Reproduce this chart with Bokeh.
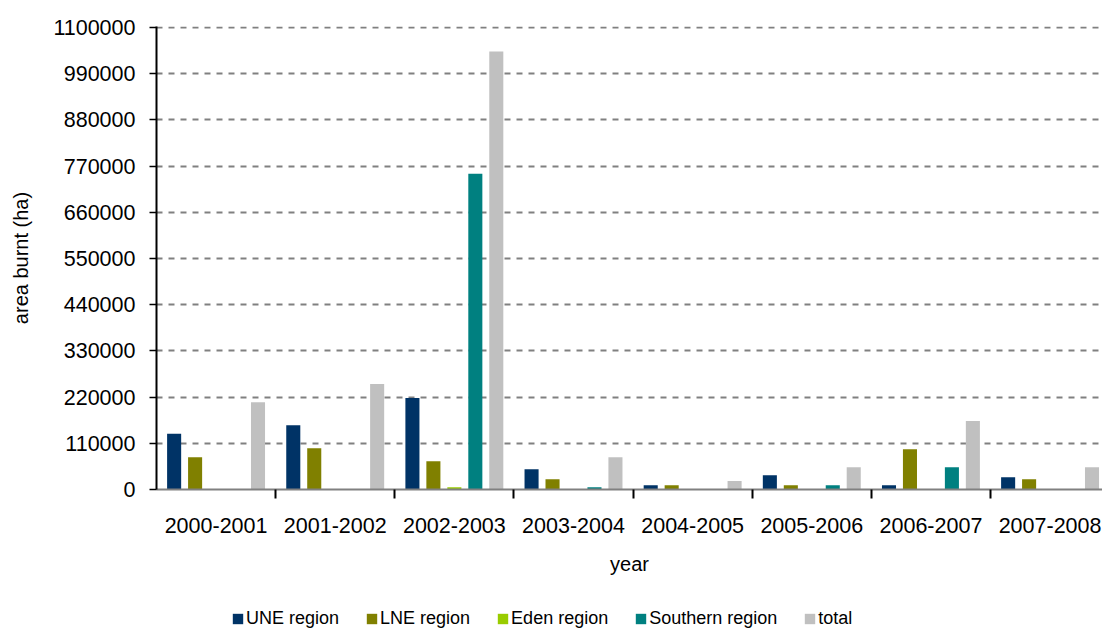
from bokeh.plotting import figure
from bokeh.layouts import column
from bokeh.models import (ColumnDataSource, FixedTicker, NumeralTickFormatter,
                          Legend, LegendItem, Range1d)
from bokeh.embed import file_html
from bokeh.resources import INLINE

# Fire seasons and area burnt (ha) per region
years = ["2000-2001", "2001-2002", "2002-2003", "2003-2004",
         "2004-2005", "2005-2006", "2006-2007", "2007-2008"]
une = [133000, 153000, 218000, 48000, 10000, 34000, 10000, 29000]
lne = [77000, 98500, 67500, 24500, 10000, 10000, 96000, 24500]
eden = [0, 0, 5500, 0, 0, 0, 0, 0]
southern = [0, 0, 752000, 5500, 0, 10000, 53000, 0]
total = [208000, 251000, 1043000, 77000, 20000, 53000, 163000, 53000]

series_names = ["UNE region", "LNE region", "Eden region", "Southern region", "total"]
series_values = [une, lne, eden, southern, total]
series_colors = ["#003366", "#808000", "#99CC00", "#008080", "#C0C0C0"]

y_ticks = [0, 110000, 220000, 330000, 440000, 550000, 660000,
           770000, 880000, 990000, 1100000]

FONT = "Liberation Sans"
TICK_SIZE = "21.5px"

# leave a pixel above the top gridline so it is not cut by the frame
p = figure(width=1102, height=590, output_backend="svg", toolbar_location=None,
           x_range=Range1d(0, 7.94), y_range=Range1d(0, 1102400),
           min_border_left=156, min_border_right=0, min_border_top=26,
           min_border_bottom=101)
p.outline_line_color = None
p.xgrid.visible = False

slot = 0.176
bar_w = 0.118
for k, (name, vals, col) in enumerate(zip(series_names, series_values, series_colors)):
    xs = [i + 0.5 + (k - 2) * slot for i in range(len(years))]
    src = ColumnDataSource(dict(x=xs, top=vals))
    p.vbar(x="x", top="top", width=bar_w, source=src,
           fill_color=col, line_color=None)

# y axis
p.yaxis.ticker = FixedTicker(ticks=y_ticks)
p.yaxis.formatter = NumeralTickFormatter(format="0")
p.yaxis.axis_label = "area burnt (ha)"
p.yaxis.axis_label_text_font = FONT
p.yaxis.axis_label_text_font_size = "20px"
p.yaxis.axis_label_text_font_style = "normal"
p.yaxis.axis_label_text_color = "black"
p.yaxis.axis_label_standoff = 18
p.yaxis.major_label_text_font = FONT
p.yaxis.major_label_text_font_size = TICK_SIZE
p.yaxis.major_label_text_color = "black"
p.yaxis.major_label_standoff = 14
p.yaxis.axis_line_color = "black"
p.yaxis.axis_line_width = 2
p.yaxis.major_tick_out = 7
p.yaxis.major_tick_in = 0
p.yaxis.major_tick_line_width = 1.5
p.yaxis.minor_tick_line_color = None

p.ygrid.ticker = FixedTicker(ticks=y_ticks[1:])
p.ygrid.grid_line_color = "#808080"
p.ygrid.grid_line_width = 2
p.ygrid.grid_line_dash = "6 6"

# x axis: labels centred under each season, tick marks between seasons
centers = [i + 0.5 for i in range(len(years))]
bounds = [float(i) for i in range(1, len(years) + 1)]
p.xaxis.ticker = FixedTicker(ticks=centers, minor_ticks=bounds)
p.xaxis.major_label_overrides = {c: y for c, y in zip(centers, years)}
p.xaxis.major_tick_out = 0
p.xaxis.major_tick_in = 0
p.xaxis.minor_tick_out = 9
p.xaxis.minor_tick_in = 0
p.xaxis.minor_tick_line_color = "black"
p.xaxis.minor_tick_line_width = 2
p.xaxis.axis_line_color = "#808080"
p.xaxis.axis_line_width = 2
p.xaxis.major_label_text_font = FONT
p.xaxis.major_label_text_font_size = TICK_SIZE
p.xaxis.major_label_text_color = "black"
p.xaxis.major_label_standoff = 19
p.xaxis.axis_label = "year"
p.xaxis.axis_label_text_font = FONT
p.xaxis.axis_label_text_font_size = "20px"
p.xaxis.axis_label_text_font_style = "normal"
p.xaxis.axis_label_text_color = "black"
p.xaxis.axis_label_standoff = 17

# legend strip under the chart (its frame lines up with the chart's frame)
lg = figure(width=1102, height=38, output_backend="svg", toolbar_location=None,
            x_range=Range1d(0, 1), y_range=Range1d(0, 1),
            min_border=0, x_axis_type=None, y_axis_type=None)
lg.outline_line_color = None
lg.xgrid.visible = False
lg.ygrid.visible = False
items = []
for name, col in zip(series_names, series_colors):
    # zero-height swatch renderer: only its legend entry shows
    r = lg.vbar(x=[0.5], top=[0], bottom=[0], width=0.1,
                fill_color=col, line_color=None)
    items.append(LegendItem(label=name, renderers=[r]))

legend = Legend(items=items, orientation="horizontal",
                location=(75, -1), padding=0, margin=0, spacing=26,
                glyph_width=13, glyph_height=13, label_standoff=2,
                label_text_font=FONT, label_text_font_size="18px",
                label_text_color="black", label_height=14,
                border_line_color=None, background_fill_alpha=0)
lg.add_layout(legend, "center")

layout = column(p, lg, spacing=0)
open("out.html", "w").write(file_html(layout, INLINE))
